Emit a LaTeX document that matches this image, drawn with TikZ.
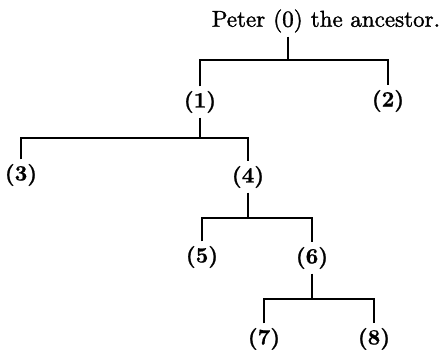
\documentclass[tikz,border=0pt]{standalone}
\usepackage{fontspec}
\newfontface\rootfont{lmroman10-regular.otf}[FakeBold=1.5]
\newfontface\numfont{lmroman10-bold.otf}[FakeBold=0.8]
\begin{document}
\begin{tikzpicture}[x=1pt,y=-1pt,
  num/.style={font=\fontsize{22}{22}\numfont, inner sep=4.5pt},
  rootnum/.style={font=\fontsize{23}{23}\rootfont, inner sep=4pt},
  roottext/.style={font=\fontsize{23}{23}\rootfont, inner xsep=3.7pt, inner ysep=0pt},
  tree/.style={line width=1.8pt}]
\useasboundingbox (0,0) rectangle (445,350);
% nodes
\node[rootnum] (p0) at (288,21) {(0)};
\node[roottext, anchor=base east] (pl) at (p0.base west) {Peter};
\node[roottext, anchor=base west] (pr) at (p0.base east) {the ancestor.};
\node[num] (n1) at (200,102) {(1)};
\node[num] (n2) at (388,101) {(2)};
\node[num] (n3) at (21,175) {(3)};
\node[num] (n4) at (248,177) {(4)};
\node[num] (n5) at (202,257) {(5)};
\node[num] (n6) at (312,258) {(6)};
\node[num] (n7) at (264,339) {(7)};
\node[num] (n8) at (374,339) {(8)};
% junctions
\coordinate (j0) at (288,60);
\coordinate (j1) at (200,138);
\coordinate (j4) at (248,218);
\coordinate (j6) at (312,299);
% connectors
\draw[tree] (p0) -- (j0);
\draw[tree] (n1) |- (j0) -| (n2);
\draw[tree] (n1) -- (j1);
\draw[tree] (n3) |- (j1) -| (n4);
\draw[tree] (n4) -- (j4);
\draw[tree] (n5) |- (j4) -| (n6);
\draw[tree] (n6) -- (j6);
\draw[tree] (n7) |- (j6) -| (n8);
\end{tikzpicture}
\end{document}
